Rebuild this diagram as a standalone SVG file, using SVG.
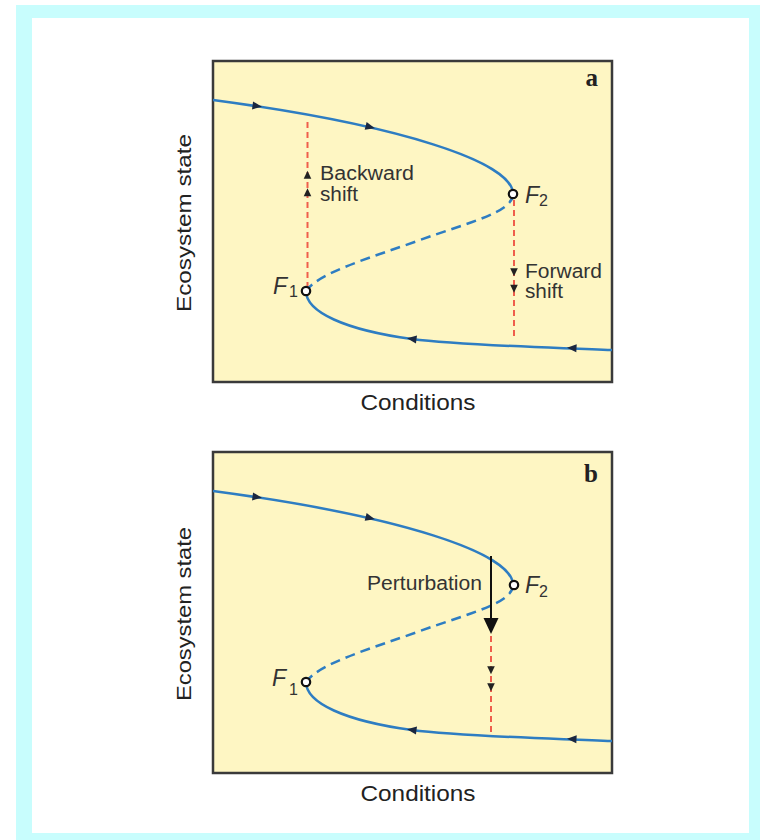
<svg xmlns="http://www.w3.org/2000/svg" width="760" height="840" viewBox="0 0 760 840">
<style>
.box{fill:#fef6c3;stroke:#3a3a3a;stroke-width:2.5}
.curve{fill:none;stroke:#2e7dc2;stroke-width:2.5}
.unstable{fill:none;stroke:#2e7dc2;stroke-width:2.5;stroke-dasharray:10 6}
.shift{fill:none;stroke:#ef5e4c;stroke-width:2;stroke-dasharray:6 4}
.lbl{font-family:"Liberation Sans",Arial,sans-serif;font-size:20px;fill:#333}
.axis{font-family:"Liberation Sans",Arial,sans-serif;font-size:20px;fill:#222}
.fp{fill:#fff;stroke:#111;stroke-width:2.2}
.fl{font-family:"Liberation Sans",Arial,sans-serif;font-style:italic;font-size:23px;fill:#333}
.sub{font-family:"Liberation Sans",Arial,sans-serif;font-size:16px;fill:#333}
.panel{font-family:"Liberation Serif","Times New Roman",serif;font-weight:bold;font-size:25px;fill:#222}
</style>
<defs>
<path id="ah" d="M5,0 L-4.5,-4 L-4.5,4 Z" fill="#1a2740"/>
<path id="up" d="M0,-4.2 L3.8,3.8 L-3.8,3.8 Z" fill="#222"/>
<path id="dn" d="M0,4.2 L3.8,-3.8 L-3.8,-3.8 Z" fill="#222"/>
<g id="fold">
<path class="curve" d="M213,100 C400,125 513,162 513,194"/>
<path class="unstable" d="M513,194 C513,212 470,222 420,240 S320,272 306,291"/>
<path class="curve" d="M306,291 C306,312 345,330 412,339 C460,345.4 540,347 612,350"/>
<use href="#ah" transform="translate(257,106) rotate(7.5)"/>
<use href="#ah" transform="translate(370,127) rotate(14)"/>
<use href="#ah" transform="translate(412,339) rotate(187.5)"/>
<use href="#ah" transform="translate(572,348) rotate(183)"/>
</g>
</defs>

<g id="frame">
<rect x="16" y="5" width="744" height="835" fill="#c8fdfd"/>
<rect x="32" y="18" width="717" height="815" fill="#ffffff"/>
</g>

<g id="panel-a">
<rect class="box" x="213" y="61" width="399" height="321"/>
<text class="panel" x="598" y="86" text-anchor="end">a</text>
<text class="axis" transform="translate(191,223) rotate(-90)" text-anchor="middle" textLength="178" lengthAdjust="spacingAndGlyphs">Ecosystem state</text>
<text class="axis" x="418" y="410" text-anchor="middle" style="font-size:22px" textLength="115" lengthAdjust="spacingAndGlyphs">Conditions</text>
<g id="connectors-a">
<path class="shift" d="M307.5,122 V287"/>
<path class="shift" d="M514,200 V336"/>
<use href="#fold"/>
<use href="#up" x="307.5" y="175"/>
<use href="#up" x="307.5" y="192.5"/>
<use href="#dn" x="514" y="272"/>
<use href="#dn" x="514" y="288.5"/>
</g>
<g id="a-backward">
<text class="lbl" x="320" y="180" textLength="94" lengthAdjust="spacingAndGlyphs">Backward</text>
<text class="lbl" x="320" y="201" textLength="38" lengthAdjust="spacingAndGlyphs">shift</text>
</g>
<g id="a-forward">
<text class="lbl" x="525" y="278" textLength="77" lengthAdjust="spacingAndGlyphs">Forward</text>
<text class="lbl" x="525" y="298" textLength="38" lengthAdjust="spacingAndGlyphs">shift</text>
</g>
<g id="a-F1">
<circle class="fp" cx="306" cy="291" r="4.2"/>
<text class="fl" x="273" y="294">F</text>
<text class="sub" x="289" y="297">1</text>
</g>
<g id="a-F2">
<circle class="fp" cx="513" cy="194" r="4.2"/>
<text class="fl" x="525" y="203">F</text>
<text class="sub" x="539" y="206">2</text>
</g>
</g>

<g id="panel-b">
<rect class="box" x="213" y="452" width="399" height="321"/>
<text class="panel" x="598" y="482" text-anchor="end">b</text>
<text class="axis" transform="translate(191,614) rotate(-90)" text-anchor="middle" textLength="174" lengthAdjust="spacingAndGlyphs">Ecosystem state</text>
<text class="axis" x="418" y="801" text-anchor="middle" style="font-size:22px" textLength="115" lengthAdjust="spacingAndGlyphs">Conditions</text>
<g id="connectors-b">
<use href="#fold" transform="translate(0,391)"/>
<path d="M491,556 V620" stroke="#111" stroke-width="2" fill="none"/>
<polygon points="483.5,618 498.5,618 491,634" fill="#111"/>
<path class="shift" d="M491,636 V733"/>
<use href="#dn" x="491" y="670"/>
<use href="#dn" x="491" y="687"/>
</g>
<g id="b-perturbation">
<text class="lbl" x="482" y="590" text-anchor="end" textLength="115" lengthAdjust="spacingAndGlyphs">Perturbation</text>
</g>
<g id="b-F1">
<circle class="fp" cx="306" cy="682" r="4.2"/>
<text class="fl" x="272" y="686">F</text>
<text class="sub" x="289" y="695">1</text>
</g>
<g id="b-F2">
<circle class="fp" cx="514" cy="585" r="4.2"/>
<text class="fl" x="525" y="593">F</text>
<text class="sub" x="539" y="597">2</text>
</g>
</g>
</svg>
